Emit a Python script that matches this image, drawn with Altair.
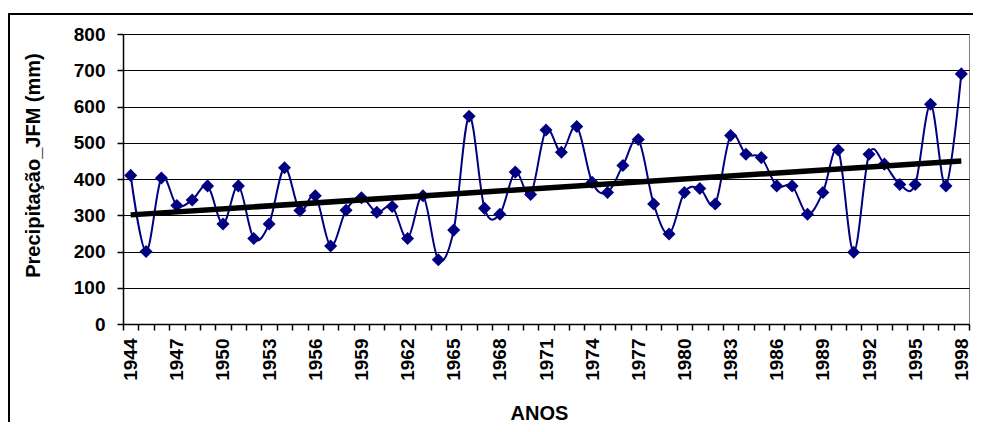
import altair as alt
import pandas as pd

years = list(range(1944, 1999))
precip = [410, 200, 403, 327, 342, 381, 276, 381, 236, 276,
          431, 313, 354, 215, 314, 348, 308, 324, 236, 354,
          177, 259, 573, 319, 303, 419, 357, 535, 474, 545,
          391, 363, 437, 509, 331, 248, 363, 374, 331, 520,
          468, 459, 381, 381, 303, 363, 480, 198, 468, 441,
          385, 385, 606, 381, 690]
y_ticks = [0, 100, 200, 300, 400, 500, 600, 700, 800]

df = pd.DataFrame({"year": years, "val": precip})
FONT = "Liberation Sans"
W, H = 846, 290

x_enc = alt.X("year:O",
              scale=alt.Scale(type="band", paddingInner=0, paddingOuter=0),
              axis=alt.Axis(title="ANOS", labelAngle=270,
                            labelExpr="datum.value % 3 == 0 ? datum.label : ''",
                            tickBand="extent", tickSize=6, labelPadding=8,
                            tickCount=100,
                            grid=False, titleX=416, titleY=89,
                            titleBaseline="middle", titleAlign="center"))
y_enc = alt.Y("val:Q",
              scale=alt.Scale(domain=[0, 800], nice=False, zero=True),
              axis=alt.Axis(title="Precipitação_JFM (mm)", values=y_ticks,
                            tickCount=20, grid=True, tickSize=6, labelPadding=12,
                            titleX=-90, titleY=131, titleAngle=270,
                            titleBaseline="middle", titleAlign="center"))

base = alt.Chart(df)
line = base.mark_line(interpolate="cardinal", tension=0, color="#000080",
                      strokeWidth=2).encode(x=x_enc, y=y_enc)
pts = base.mark_point(shape="diamond", filled=True, size=170, color="#000080",
                      opacity=1).encode(x=x_enc, y=y_enc)
trend = base.transform_regression("year", "val").mark_line(
    color="black", strokeWidth=5.5).encode(x=x_enc, y=y_enc)
frame = alt.Chart(pd.DataFrame({"a": [0]})).mark_rect(
    fillOpacity=0, stroke="black", strokeWidth=2).encode(
    x=alt.value(-114), x2=alt.value(W + 30), y=alt.value(-20), y2=alt.value(H + 110))

chart = alt.layer(frame, line, pts, trend).properties(
    width=W, height=H,
    autosize=alt.AutoSizeParams(type="none"),
    padding={"left": 115, "top": 26, "right": 4, "bottom": 98},
    background="white",
).configure_view(stroke="#808080", strokeWidth=1).configure_axis(
    domainColor="black", domainWidth=1.5, tickColor="black", tickWidth=1.5,
    gridColor="black", gridWidth=1, gridOpacity=1,
    labelFont=FONT, labelFontWeight="bold", labelFontSize=19, labelColor="black",
    titleFont=FONT, titleFontWeight="bold", titleFontSize=20, titleColor="black",
    labelOverlap=False,
)

chart.save("out.html", embed_options={"renderer": "svg", "actions": False})
